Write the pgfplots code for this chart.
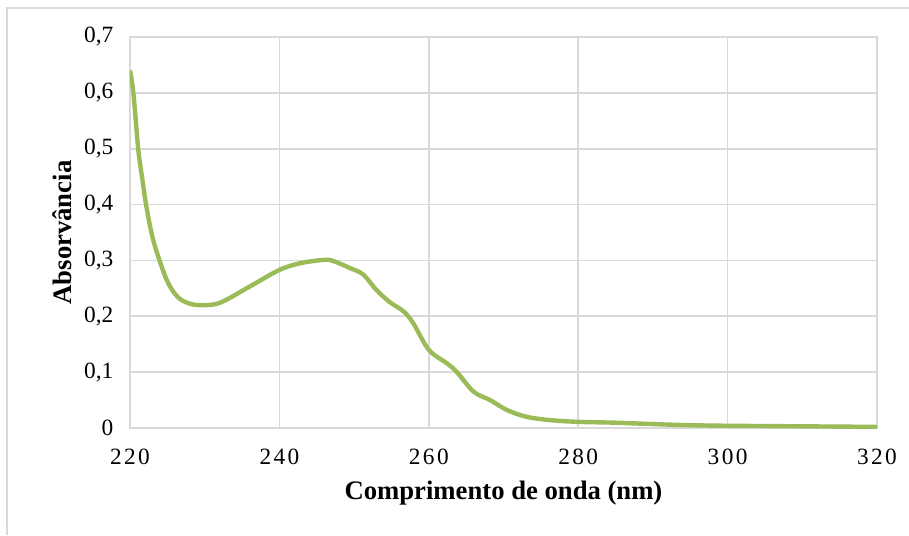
\documentclass[border=0pt]{standalone}
\usepackage{fontspec}
\setmainfont{Liberation Serif}
\usepackage{pgfplots}
\pgfplotsset{compat=1.18}
\definecolor{gridgray}{RGB}{217,217,217}
\definecolor{olive}{RGB}{155,187,89}
\begin{document}
\begin{tikzpicture}
\useasboundingbox (-97.5pt,-80.25pt) rectangle (584.25pt,321pt);
\draw[gridgray, line width=1pt] (-92.25pt,-80.25pt) -- (-92.25pt,315pt) -- (584.25pt,315pt);
\begin{axis}[
  at={(0,0)}, anchor=south west,
  scale only axis, width=560.25pt, height=293.25pt,
  xmin=220, xmax=320, ymin=0, ymax=0.7,
  xtick={220,240,...,320}, ytick={0,0.1,...,0.7},
  xticklabels={{2\kern1.8pt2\kern1.8pt0},{2\kern1.8pt4\kern1.8pt0},{2\kern1.8pt6\kern1.8pt0},{2\kern1.8pt8\kern1.8pt0},{3\kern1.8pt0\kern1.8pt0},{3\kern1.8pt2\kern1.8pt0}},
  grid=major, major grid style={gridgray, line width=1.3pt},
  axis line style={gridgray, line width=1.3pt},
  tick style={draw=none},
  /pgf/number format/assume math mode=true,
  /pgf/number format/use comma,
  /pgf/number format/fixed,
  /pgf/number format/precision=1,
  ticklabel style={font=\fontsize{17.5}{20}\selectfont},
  xticklabel style={yshift=-12pt},
  yticklabel style={xshift=-9pt},
  xlabel={Comprimento de onda (nm)},
  ylabel={Absorvância},
  label style={font=\fontsize{20}{24}\selectfont\bfseries},
  xlabel style={at={(axis description cs:0.5,-0.166)}, anchor=center},
  ylabel style={at={(axis description cs:-0.091,0.5)}, anchor=center, rotate=0},
]
\addplot[olive, line width=3.3pt, smooth, tension=0.55] coordinates {
(220,0.640) (220.45,0.600) (221.1,0.500) (221.6,0.450) (222.2,0.396) (223.1,0.337)
(224.5,0.279) (225.5,0.250) (226.6,0.232) (227.9,0.223) (229.4,0.220) (232,0.224) (236,0.253)
(240,0.283) (242.8,0.295) (245.9,0.301) (247.2,0.299) (249.5,0.286) (251.2,0.275)
(253,0.247) (254.8,0.225) (256.6,0.209) (257.9,0.188) (260,0.140) (262.4,0.116)
(263.7,0.101) (266,0.065) (268.2,0.050) (270.5,0.032) (273.1,0.020) (276.3,0.014)
(280,0.011) (285,0.0095) (290,0.007) (295,0.005) (300,0.004) (305,0.0035)
(310,0.003) (315,0.0025) (320,0.002)
};
\end{axis}
\end{tikzpicture}
\end{document}
